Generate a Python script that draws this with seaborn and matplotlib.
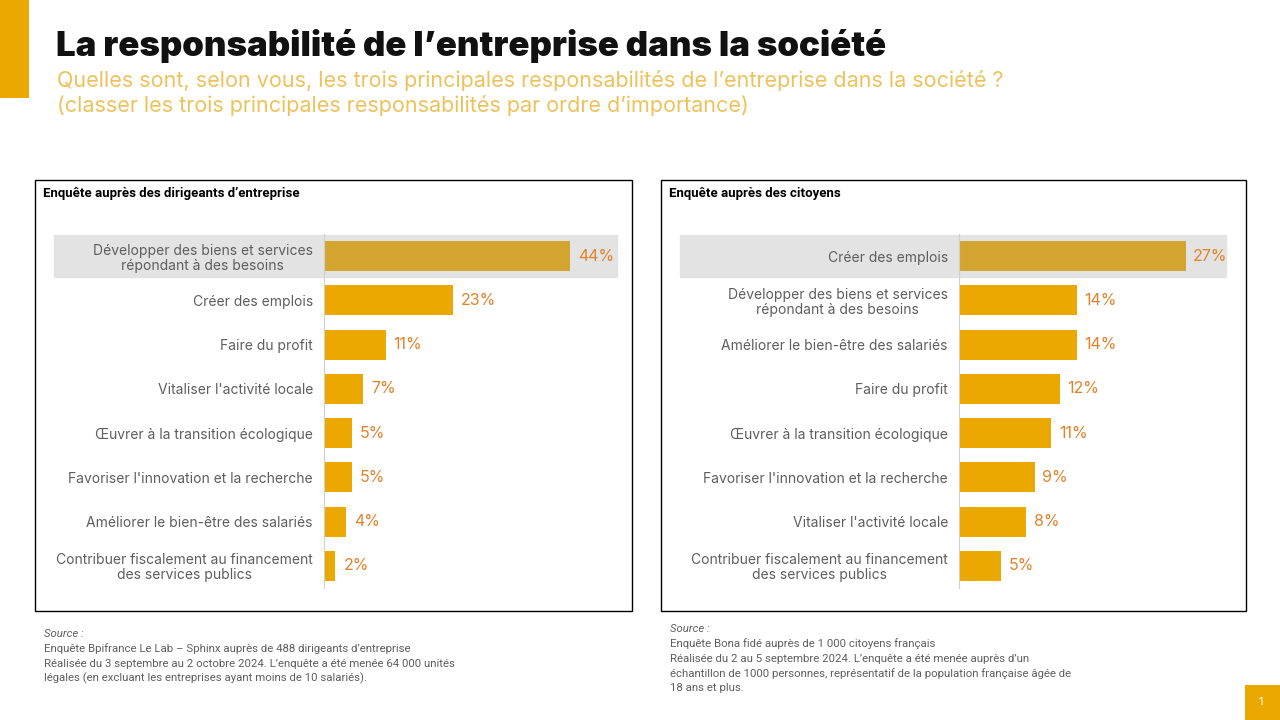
import matplotlib
matplotlib.use('Agg')
import matplotlib.pyplot as plt
from matplotlib.patches import Rectangle
import seaborn as sns
import pandas as pd

# Données
cat_dirigeants = [
    "Développer des biens et services\nrépondant à des besoins",
    "Créer des emplois",
    "Faire du profit",
    "Vitaliser l'activité locale",
    "Œuvrer à la transition écologique",
    "Favoriser l'innovation et la recherche",
    "Améliorer le bien-être des salariés",
    "Contribuer fiscalement au financement\ndes services publics",
]
val_dirigeants = [44, 23, 11, 7, 5, 5, 4, 2]

cat_citoyens = [
    "Créer des emplois",
    "Développer des biens et services\nrépondant à des besoins",
    "Améliorer le bien-être des salariés",
    "Faire du profit",
    "Œuvrer à la transition écologique",
    "Favoriser l'innovation et la recherche",
    "Vitaliser l'activité locale",
    "Contribuer fiscalement au financement\ndes services publics",
]
val_citoyens = [27, 14, 14, 12, 11, 9, 8, 5]

titre = "La responsabilité de l\u2019entreprise dans la société"
sous_titre = ("Quelles sont, selon vous, les trois principales responsabilités de l\u2019entreprise dans la société ?\n"
              "(classer les trois principales responsabilités par ordre d\u2019importance)")

source_dirigeants = [
    "Enquête Bpifrance Le Lab \u2013 Sphinx auprès de 488 dirigeants d\u2019entreprise",
    "Réalisée du 3 septembre au 2 octobre 2024. L\u2019enquête a été menée 64 000 unités",
    "légales (en excluant les entreprises ayant moins de 10 salariés).",
]
source_citoyens = [
    "Enquête Bona fidé auprès de 1 000 citoyens français",
    "Réalisée du 2 au 5 septembre 2024. L\u2019enquête a été menée auprès d\u2019un",
    "échantillon de 1000 personnes, représentatif de la population française âgée de",
    "18 ans et plus.",
]

JAUNE = "#EAA800"
JAUNE_FONCE = "#D4A431"
ORANGE = "#E3822C"
GRIS_TXT = "#5E5E5E"
W, H = 1280, 720

sns.set_theme(style="white")
plt.rcParams['font.family'] = ['Inter', 'DejaVu Sans']

fig = plt.figure(figsize=(12.8, 7.2), dpi=100)


def fx(px):
    return px / W


def fy(py):
    return 1 - py / H


# bandeau jaune + numéro de page
fig.add_artist(Rectangle((0, fy(98)), fx(29), 98 / H, transform=fig.transFigure,
                         facecolor=JAUNE, edgecolor='none'))
fig.add_artist(Rectangle((fx(1245), 0), fx(35), 35 / H, transform=fig.transFigure,
                         facecolor=JAUNE, edgecolor='none'))
fig.text(fx(1261), fy(702), "1", color='white', fontsize=8, ha='center', va='center')

fig.text(fx(56), fy(46), titre, fontsize=25, fontweight='black', color='#111111',
         va='center', ha='left')
fig.text(fx(57), fy(93), sous_titre, fontsize=15.5, color='#EDC25C',
         va='center', ha='left', linespacing=1.18)


def panneau(box, titre_panneau, ax_px, xmax, cats, vals, src, src_y):
    x0, y0, x1, y1 = box
    fig.add_artist(Rectangle((fx(x0), fy(y1)), fx(x1 - x0), (y1 - y0) / H,
                             transform=fig.transFigure, facecolor='none',
                             edgecolor='black', linewidth=1))
    fig.text(fx(x0 + 8), fy(193), titre_panneau, fontsize=9.5, fontweight='bold',
             family=['Roboto', 'DejaVu Sans'], color='black', va='center')

    al, at, ar, ab = ax_px
    ax = fig.add_axes([fx(al), fy(ab), fx(ar - al), (ab - at) / H])
    df = pd.DataFrame({"cat": cats, "val": vals})
    pal = {c: (JAUNE_FONCE if i == 0 else JAUNE) for i, c in enumerate(cats)}
    sns.barplot(data=df, y="cat", x="val", hue="cat", palette=pal, legend=False,
                width=0.68, ax=ax, saturation=1, linewidth=0)
    ax.set_xlim(0, xmax)
    ax.set_ylim(len(cats) - 0.5, -0.5)
    # bande grise derrière la première catégorie
    ax.axhspan(-0.47, 0.47, xmin=(x0 + 19 - al) / (ar - al), xmax=1,
               color='#E3E3E3', zorder=0, clip_on=False)
    for i, v in enumerate(vals):
        ax.text(v + xmax * 0.028, i, f"{v}%", color=ORANGE, fontsize=11.5,
                va='center', ha='left')
    ax.set_xlabel("")
    ax.set_ylabel("")
    ax.set_xticks([])
    ax.tick_params(axis='y', length=0, pad=8, labelsize=10, labelcolor=GRIS_TXT)
    for t in ax.get_yticklabels():
        t.set_linespacing(1.1)
        t.set_multialignment('center')
    for s in ['top', 'right', 'bottom']:
        ax.spines[s].set_visible(False)
    ax.spines['left'].set_color('#D0D0D0')
    ax.spines['left'].set_linewidth(0.8)
    ax.patch.set_alpha(0)

    fig.text(fx(x0 + 9), fy(src_y), "Source :", fontsize=8.2, style='italic',
             family=['Roboto', 'DejaVu Sans'], color=GRIS_TXT, va='center')
    for k, line in enumerate(src):
        fig.text(fx(x0 + 9), fy(src_y + 14.8 * (k + 1)), line, fontsize=8.2,
                 family=['Roboto', 'DejaVu Sans'], color=GRIS_TXT, va='center')
    return ax


panneau((35, 180, 632, 611), "Enquête auprès des dirigeants d\u2019entreprise",
        (324, 234, 617, 588), 52.4, cat_dirigeants, val_dirigeants,
        source_dirigeants, 634)
panneau((661, 180, 1246, 611), "Enquête auprès des citoyens",
        (959, 234, 1226, 588), 31.8, cat_citoyens, val_citoyens,
        source_citoyens, 629)

fig.savefig("out.png", dpi=100)
